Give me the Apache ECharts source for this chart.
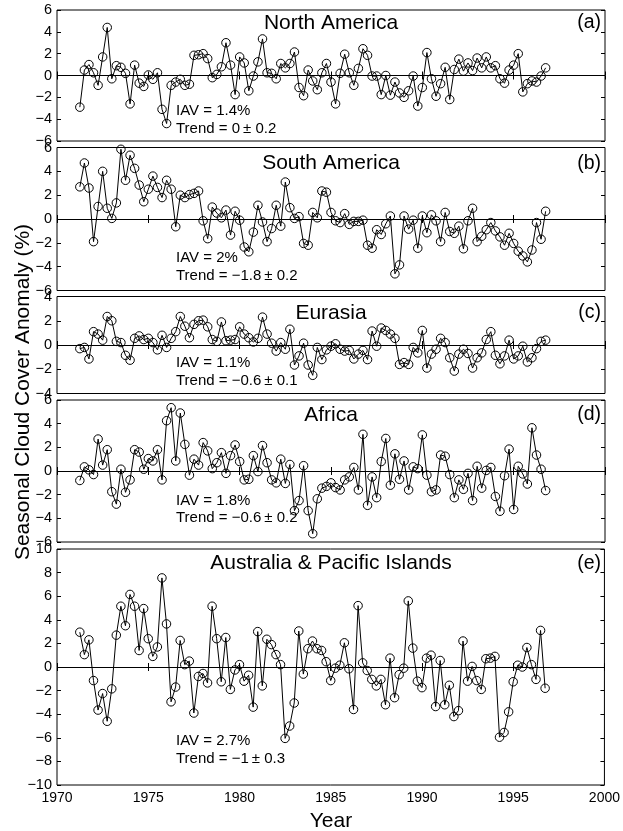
<!DOCTYPE html>
<html>
<head>
<meta charset="utf-8">
<script src="https://cdn.jsdelivr.net/npm/echarts@6/dist/echarts.min.js"></script>
<style>
  html, body { margin: 0; padding: 0; background: #fff; }
  #chart { width: 623px; height: 831px; }
</style>
</head>
<body>
<div id="chart"></div>
<script>
// Season centre times (decimal year)
const seasons = [
  1971.25, 1971.5, 1971.75,
  1972, 1972.25, 1972.5, 1972.75,
  1973, 1973.25, 1973.5, 1973.75,
  1974, 1974.25, 1974.5, 1974.75,
  1975, 1975.25, 1975.5, 1975.75,
  1976, 1976.25, 1976.5, 1976.75,
  1977, 1977.25, 1977.5, 1977.75,
  1978, 1978.25, 1978.5, 1978.75,
  1979, 1979.25, 1979.5, 1979.75,
  1980, 1980.25, 1980.5, 1980.75,
  1981, 1981.25, 1981.5, 1981.75,
  1982, 1982.25, 1982.5, 1982.75,
  1983, 1983.25, 1983.5, 1983.75,
  1984, 1984.25, 1984.5, 1984.75,
  1985, 1985.25, 1985.5, 1985.75,
  1986, 1986.25, 1986.5, 1986.75,
  1987, 1987.25, 1987.5, 1987.75,
  1988, 1988.25, 1988.5, 1988.75,
  1989, 1989.25, 1989.5, 1989.75,
  1990, 1990.25, 1990.5, 1990.75,
  1991, 1991.25, 1991.5, 1991.75,
  1992, 1992.25, 1992.5, 1992.75,
  1993, 1993.25, 1993.5, 1993.75,
  1994, 1994.25, 1994.5, 1994.75,
  1995, 1995.25, 1995.5, 1995.75,
  1996, 1996.25, 1996.5, 1996.75
];

// Seasonal cloud cover anomalies (%)
const northAmerica = [
  -2.9, 0.5, 1.0, 0.25, -0.9, 1.7, 4.4, -0.3, 0.9, 0.75,
  0.2, -2.6, 0.95, -0.7, -1.0, 0.05, -0.35, 0.25, -3.1, -4.4,
  -0.9, -0.6, -0.35, -0.9, -0.8, 1.85, 1.9, 2.0, 1.55, -0.2,
  0.1, 0.8, 3.0, 0.95, -1.75, 1.7, 1.15, -1.4, -0.05, 1.25,
  3.35, 0.25, 0.2, -0.3, 1.1, 0.7, 1.1, 2.15, -1.1, -1.85,
  0.5, -0.5, -1.3, 0.25, 1.1, -0.6, -2.6, 0.2, 1.95, 0.25,
  -0.9, 0.65, 2.45, 1.85, -0.05, -0.05, -1.75, 0, -1.8, -0.6,
  -1.6, -2.0, -1.4, -0.05, -2.8, -1.1, 2.1, -0.3, -1.9, -0.75,
  0.75, -2.2, 0.55, 1.5, 0.4, 1.15, 0.45, 1.6, 0.7, 1.7,
  0.7, 0.9, -0.3, -0.7, 0.5, 0.95, 2.0, -1.5, -0.75, -0.5,
  -0.6, -0.05, 0.7
];
const southAmerica = [
  2.7, 4.7, 2.6, -1.9, 1.05, 4.0, 0.9, 0.05, 1.35, 5.85,
  3.25, 5.35, 4.25, 2.85, 1.45, 2.5, 3.6, 2.65, 1.8, 3.25,
  2.5, -0.65, 2.0, 1.8, 2.05, 2.15, 2.35, -0.15, -1.65, 1.0,
  0.5, 0.1, 0.75, -1.35, 0.65, -0.1, -2.35, -2.75, -1.1, 1.15,
  -0.25, -1.9, -0.8, 1.15, -0.6, 3.1, 0.95, 0.05, 0.2, -2.05,
  -2.2, 0.55, 0.1, 2.35, 2.25, 0.55, -0.15, -0.3, 0.45, -0.45,
  -0.2, -0.2, -0.1, -2.2, -2.45, -0.9, -1.3, -0.4, 0.25, -4.6,
  -3.85, 0.25, -0.85, -0.1, -2.45, 0.25, -1.15, 0.35, -0.15, -1.9,
  0.55, -1.05, -1.2, -0.6, -2.5, -0.15, 0.9, -1.9, -1.45, -0.9,
  -0.3, -1.0, -1.5, -2.2, -1.2, -2.05, -2.7, -3.1, -3.6, -2.6,
  -0.3, -1.7, 0.65
];
const eurasia = [
  -0.3, -0.2, -1.15, 1.1, 0.9, 0.4, 2.35, 2.0, 0.3, 0.2,
  -0.85, -1.25, 0.55, 0.75, 0.45, 0.55, 0.2, -0.4, 0.8, -0.2,
  0.55, 1.1, 2.35, 1.55, 0.6, 1.7, 2.0, 2.05, 1.5, 0.45,
  0.3, 1.9, 0.35, 0.4, 0.45, 1.5, 0.9, 0.6, 0.25, 0.55,
  2.3, 0.9, 0.15, -0.5, 0.2, -0.35, 1.3, -1.65, -0.9, 0.15,
  -1.65, -2.5, -0.2, -1.2, -0.4, -0.1, 0.1, -0.35, -0.5, -0.45,
  -1.15, -0.75, -0.45, -1.2, 1.15, -0.1, 1.4, 1.2, 0.9, 0.55,
  -1.6, -1.45, -1.6, -0.2, -0.65, 1.2, -1.9, -0.75, -0.35, 0.55,
  0.2, -1.05, -2.15, -0.75, -0.35, -0.7, -1.9, -1.05, -0.65, 0.45,
  1.1, -0.85, -1.55, -0.9, 0.4, -1.15, -0.9, -0.1, -1.4, -1.05,
  -0.3, 0.3, 0.4
];
const africa = [
  -0.8, 0.35, 0.1, -0.3, 2.7, 0.5, 1.8, -1.75, -2.8, 0.15,
  -1.8, -0.75, 1.8, 1.6, 0.15, 1.05, 0.85, 1.8, -0.75, 4.25,
  5.35, 0.85, 4.9, 2.25, -0.35, 1.0, 0.5, 2.4, 1.7, 0.2,
  0.7, 1.55, -0.2, 1.3, 2.2, 0.8, -0.75, -0.7, 1.3, -0.05,
  2.15, 0.7, -0.75, -1.0, 1.0, -1.05, 0.55, -3.35, -2.5, 0.45,
  -3.35, -5.3, -2.35, -1.45, -1.3, -1.0, -1.4, -1.6, -0.75, -0.5,
  0.3, -1.6, 3.1, -2.9, -0.5, -2.25, 0.8, 2.75, -1.2, 1.45,
  -0.7, 0.85, -1.6, 0.35, 0.2, 3.05, -0.35, -1.75, -1.6, 1.35,
  1.25, -0.3, -2.25, -0.75, -1.55, -0.2, -2.5, 0.4, -1.45, 0.05,
  0.3, -2.15, -3.4, -0.4, 1.85, -3.25, 0.4, -0.25, -1.1, 3.65,
  1.35, 0.15, -1.65
];
const australiaPacific = [
  2.95, 1.05, 2.3, -1.15, -3.65, -2.25, -4.6, -1.85, 2.7, 5.15,
  3.5, 6.15, 5.15, 1.4, 4.95, 2.4, 0.9, 1.7, 7.55, 3.65,
  -2.95, -1.7, 2.25, 0.2, 0.5, -3.9, -0.8, -0.55, -1.35, 5.15,
  2.4, -1.25, 2.5, -1.9, -0.25, 0.2, -1.2, -0.7, -3.4, 3.0,
  -1.6, 2.35, 1.9, 1.05, 0.2, -6.05, -5.0, -3.05, 3.05, -0.6,
  1.55, 2.2, 1.55, 1.4, 0.45, -1.15, -0.1, 0.15, 2.05, -0.15,
  -3.6, 5.2, 0.35, -0.3, -1.05, -1.6, -1.05, -3.2, 0.75, -2.6,
  -0.65, -0.1, 5.6, 1.6, -1.2, -1.75, 0.75, 1.0, -3.35, 0.55,
  -3.2, -1.55, -4.2, -3.7, 2.2, -1.2, 0.05, -1.15, -1.9, 0.7,
  0.75, 0.9, -5.95, -5.55, -3.8, -1.25, 0.15, 0, 1.65, 0.2,
  -1.05, 3.1, -1.8
];

// Panel titles, tags and statistics
const regionNames = ['North America', 'South America', 'Eurasia', 'Africa', 'Australia & Pacific Islands'];
const panelTags = ['(a)', '(b)', '(c)', '(d)', '(e)'];
const iavValues = ['1.4%', '2%', '1.1%', '1.8%', '2.7%'];
const trendValues = ['0', '\u22121.8', '\u22120.6', '\u22120.6', '\u22121'];
const trendErrors = ['0.2', '0.2', '0.1', '0.2', '0.3'];
const yLimits = [6, 6, 4, 6, 10];
const yStep = [2, 2, 2, 2, 2];
const xTicks = { min: 1970, max: 2000, step: 5 };

const seriesValues = [northAmerica, southAmerica, eurasia, africa, australiaPacific];

// Panel geometry (pixels)
const PLOT_LEFT = 57, PLOT_RIGHT = 605;
const boxes = [
  { top: 10,    height: 131, titleY: 23,    iavY: 111, trendY: 129 },
  { top: 147.5, height: 143, titleY: 163.5, iavY: 258, trendY: 276 },
  { top: 296.5, height: 97,  titleY: 313,   iavY: 363, trendY: 381 },
  { top: 400,   height: 142, titleY: 415,   iavY: 501, trendY: 518 },
  { top: 549,   height: 236, titleY: 563.5, iavY: 741, trendY: 759 }
];

const FONT = '"Liberation Sans", Arial, Helvetica, sans-serif';
const minusFmt = v => String(v).replace('-', '\u2212');

const grids = [], xAxes = [], yAxes = [], series = [], graphics = [];

boxes.forEach((b, i) => {
  grids.push({
    left: PLOT_LEFT, width: PLOT_RIGHT - PLOT_LEFT, top: b.top, height: b.height,
    show: true, borderColor: '#000', borderWidth: 1, backgroundColor: 'transparent'
  });
  const tickStyle = { show: true, inside: true, length: 4, lineStyle: { color: '#000', width: 1 } };
  // bottom x axis
  xAxes.push({
    gridIndex: i, type: 'value', position: 'bottom',
    min: xTicks.min, max: xTicks.max, interval: xTicks.step,
    axisLine: { show: false }, axisTick: tickStyle, splitLine: { show: false },
    axisLabel: {
      show: i === boxes.length - 1, color: '#000', fontFamily: FONT, fontSize: 14, margin: 6,
      showMinLabel: true, showMaxLabel: true, formatter: v => String(v)
    }
  });
  // top x axis (ticks only)
  xAxes.push({
    gridIndex: i, type: 'value', position: 'top',
    min: xTicks.min, max: xTicks.max, interval: xTicks.step,
    axisLine: { show: false }, axisTick: tickStyle, splitLine: { show: false },
    axisLabel: { show: false }
  });
  const lim = yLimits[i];
  // left y axis with labels
  yAxes.push({
    gridIndex: i, type: 'value', position: 'left',
    min: -lim, max: lim, interval: yStep[i],
    axisLine: { show: false }, axisTick: tickStyle, splitLine: { show: false },
    axisLabel: {
      color: '#000', fontFamily: FONT, fontSize: 14.5, margin: 5,
      showMinLabel: true, showMaxLabel: true, formatter: minusFmt
    }
  });
  // right y axis (ticks only)
  yAxes.push({
    gridIndex: i, type: 'value', position: 'right',
    min: -lim, max: lim, interval: yStep[i],
    axisLine: { show: false }, axisTick: tickStyle, splitLine: { show: false },
    axisLabel: { show: false }
  });

  const values = seriesValues[i];
  series.push({
    type: 'line',
    xAxisIndex: 2 * i, yAxisIndex: 2 * i,
    data: seasons.map((t, k) => [t, values[k]]),
    symbol: 'circle', symbolSize: 8.5,
    itemStyle: { color: 'rgba(0,0,0,0)', borderColor: '#000', borderWidth: 1 },
    lineStyle: { color: '#000', width: 1 },
    animation: false, silent: true,
    markLine: {
      silent: true, symbol: 'none', animation: false,
      label: { show: false },
      lineStyle: { color: '#000', width: 1, type: 'solid' },
      data: [{ yAxis: 0 }]
    }
  });

  const textBase = { fill: '#000', fontFamily: FONT };
  graphics.push({
    type: 'text', x: (PLOT_LEFT + PLOT_RIGHT) / 2, y: b.titleY,
    style: Object.assign({ text: regionNames[i], fontSize: 21, textAlign: 'center', textVerticalAlign: 'middle' }, textBase)
  });
  graphics.push({
    type: 'text', x: 601, y: b.titleY,
    style: Object.assign({ text: panelTags[i], fontSize: 19.5, textAlign: 'right', textVerticalAlign: 'middle' }, textBase)
  });
  graphics.push({
    type: 'text', x: 176, y: b.iavY,
    style: Object.assign({ text: 'IAV = ' + iavValues[i], fontSize: 15, textAlign: 'left', textVerticalAlign: 'middle' }, textBase)
  });
  graphics.push({
    type: 'text', x: 176, y: b.trendY,
    style: Object.assign({ text: 'Trend = ' + trendValues[i] + '\u2009\u00b1 ' + trendErrors[i], fontSize: 15, textAlign: 'left', textVerticalAlign: 'middle' }, textBase)
  });
});

// Axis titles
graphics.push({
  type: 'text', x: 23, y: 392, rotation: Math.PI / 2,
  style: { text: 'Seasonal Cloud Cover Anomaly (%)', fill: '#000', fontFamily: FONT, fontSize: 21, textAlign: 'center', textVerticalAlign: 'middle' }
});
graphics.push({
  type: 'text', x: (PLOT_LEFT + PLOT_RIGHT) / 2, y: 821,
  style: { text: 'Year', fill: '#000', fontFamily: FONT, fontSize: 21, textAlign: 'center', textVerticalAlign: 'middle' }
});

const chart = echarts.init(document.getElementById('chart'), null, { renderer: 'canvas' });
chart.setOption({
  animation: false,
  backgroundColor: '#fff',
  grid: grids,
  xAxis: xAxes,
  yAxis: yAxes,
  series: series,
  graphic: graphics
});
</script>
</body>
</html>
